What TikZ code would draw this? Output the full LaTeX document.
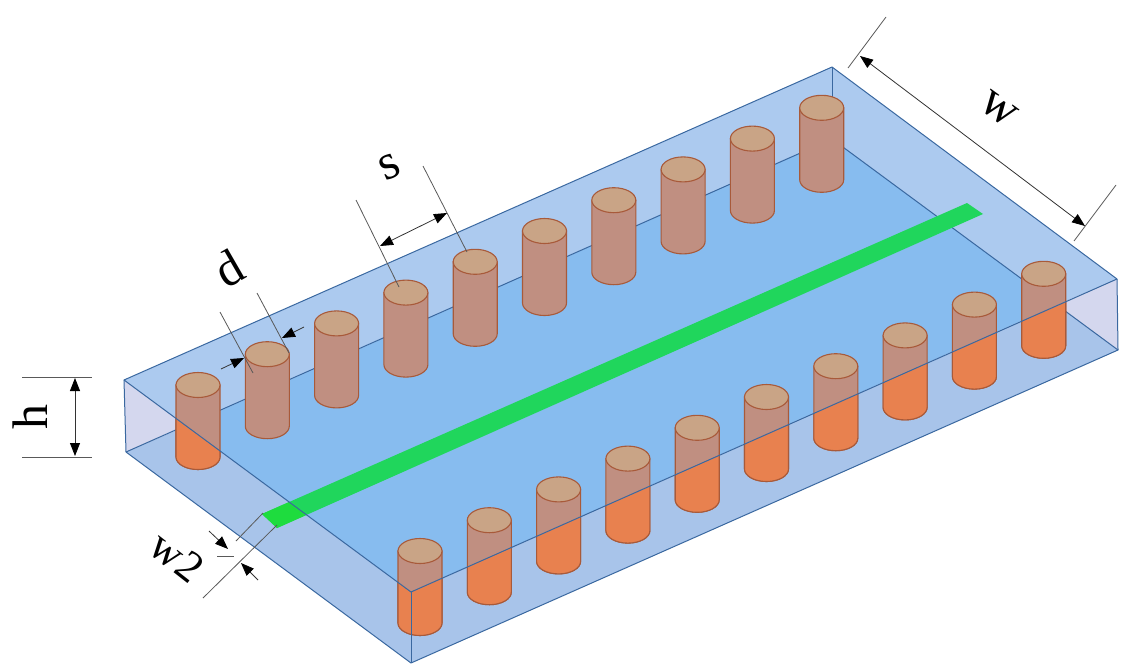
\documentclass[tikz,border=0pt]{standalone}
\usepackage{fontspec}
\setmainfont{Liberation Serif}
\usetikzlibrary{arrows.meta}
\definecolor{fundo}{HTML}{87BCEF}
\definecolor{faixa}{HTML}{ACCAEF}
\definecolor{frente}{HTML}{A8C4EA}
\definecolor{lado}{HTML}{D4D7EE}
\definecolor{aresta}{HTML}{3A68A0}
\definecolor{rosa}{HTML}{C08F81}
\definecolor{tampa}{HTML}{C9A486}
\definecolor{contorno}{HTML}{A85A3A}
\definecolor{laranja}{HTML}{E8814F}
\definecolor{verde}{HTML}{20D65C}
\definecolor{verdeclaro}{HTML}{1EDC3E}
\begin{document}
\begin{tikzpicture}[x=1pt,y=-1pt]
\tikzstyle{arestas}=[draw=aresta, line width=1pt, line join=round]
\tikzstyle{corpo}=[draw=contorno, line width=1.1pt, fill=rosa]
\tikzstyle{corpolaranja}=[corpo, fill=laranja]
\tikzstyle{tampo}=[draw=contorno, line width=1.1pt, fill=tampa]
\tikzstyle{guia}=[draw=black!65, line width=.8pt]
\tikzstyle{cota}=[draw=black!80, line width=.8pt, -{Stealth[inset=0pt,length=13pt,width=10pt,color=black]}]
\tikzstyle{cotadupla}=[draw=black!80, line width=.8pt, {Stealth[inset=0pt,length=13pt,width=10pt,color=black]}-{Stealth[inset=0pt,length=13pt,width=10pt,color=black]}]
\tikzstyle{rotulo}=[inner sep=0, text=black, font=\fontsize{50}{50}\selectfont]
\useasboundingbox (0,0) rectangle (1142,670);
\coordinate (a) at (124,380);
\coordinate (b) at (832,67);
\coordinate (c) at (1117,279);
\coordinate (d) at (411,592);
\coordinate (e) at (126,452);
\coordinate (f) at (832,139);
\coordinate (g) at (1118,350);
\coordinate (h) at (411,663);
\coordinate (p) at (186,426);
\coordinate (q) at (1057,305);
\fill[faixa] (a)--(b)--(c)--(q)--(f)--(p)--cycle;
\fill[fundo] (p)--(f)--(q)--(d)--cycle;
\fill[frente] (p)--(d)--(q)--(g)--(h)--(e)--cycle;
\fill[lado] (a)--(p)--(e)--cycle;
\fill[lado] (c)--(q)--(g)--cycle;
\path[arestas] (e)--(f)--(g);
\path[arestas] (b)--(f);
\fill[verde] (262,514)--(967,203)--(983,214)--(277,528)--cycle;
\begin{scope}
\clip (a)--(d)--(c)--(1142,279)--(1142,670)--(0,670)--(0,380)--cycle;
\fill[verdeclaro] (262,514)--(967,203)--(983,214)--(277,528)--cycle;
\end{scope}
\foreach \i in {0,...,9}
\foreach \x/\y in {198/385, 420/551}
\path[corpo, shift={({\x+69.3*\i},{\y-30.8*\i})}] (-22,0)--(-22,72) arc[start angle=180, end angle=360, x radius=22pt, y radius=12.5pt]--(22,0)--cycle;
\begin{scope}
\clip (a)--(d)--(c)--(1142,279)--(1142,670)--(0,670)--(0,380)--cycle;
\foreach \i in {0,...,9}
\foreach \x/\y in {198/385, 420/551}
\path[corpolaranja, shift={({\x+69.3*\i},{\y-30.8*\i})}] (-22,0)--(-22,72) arc[start angle=180, end angle=360, x radius=22pt, y radius=12.5pt]--(22,0)--cycle;
\end{scope}
\foreach \i in {0,...,9}
\foreach \x/\y in {198/385, 420/551}
\path[tampo] ({\x+69.3*\i},{\y-30.8*\i}) ellipse[x radius=22pt, y radius=12.5pt];
\path[arestas] (a)--(b)--(c)--(d)--cycle;
\path[arestas] (a)--(e)--(h)--(g)--(c);
\path[arestas] (d)--(h);
\draw[guia] (22,377)--(92,377);
\draw[guia] (22,457)--(92,457);
\draw[cotadupla] (75,378)--(75,456);
\node[rotulo, rotate=90] (rotuloh) at (30,417) {h};
\draw[guia] (848,68)--(886,17);
\draw[guia] (1074,241)--(1116,185);
\draw[cotadupla] (860,56)--(1085,226);
\node[rotulo, rotate=-36] (rotulow) at (999,109) {w};
\draw[guia] (356,200)--(399,287);
\draw[guia] (423,166)--(467,252);
\draw[cotadupla] (380,246)--(447,213);
\node[rotulo, rotate=24] (rotulos) at (390,167) {s};
\draw[guia] (220,312)--(253,373);
\draw[guia] (257,293)--(289,353);
\draw[cota] (221,369)--(244,358);
\draw[cota] (304,327)--(282,338);
\node[rotulo, rotate=30] (rotulod) at (229,268) {d};
\draw[guia] (263,513)--(236,541);
\draw[guia] (277,525)--(203,598);
\draw[guia] (217,556)--(234,556);
\draw[cota] (209,531)--(228,549);
\draw[cota] (258,580)--(241,563);
\node[rotulo, rotate=-38, font=\fontsize{44}{44}\selectfont] (rotulodois) at (177,557) {w2};
\end{tikzpicture}
\end{document}
